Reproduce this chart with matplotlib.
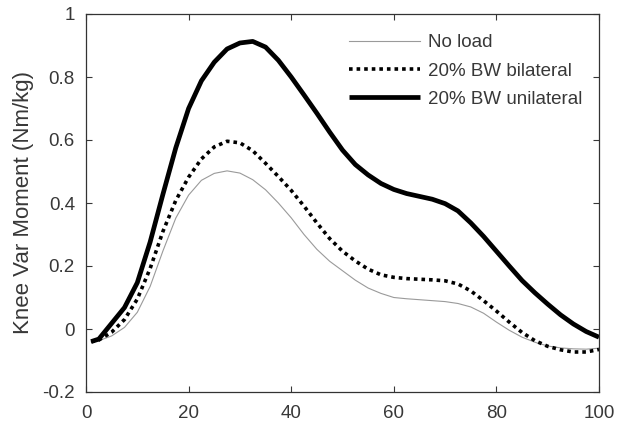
import matplotlib
matplotlib.use("Agg")
import matplotlib.pyplot as plt

plt.rcParams['font.family'] = ['Liberation Sans', 'DejaVu Sans']

x = [1, 2.5, 5, 7.5, 10, 12.5, 15, 17.5, 20, 22.5, 25, 27.5, 30, 32.5, 35, 37.5,
     40, 42.5, 45, 47.5, 50, 52.5, 55, 57.5, 60, 62.5, 65, 67.5, 70, 72.5, 75,
     77.5, 80, 82.5, 85, 87.5, 90, 92.5, 95, 97.5, 100]

no_load = [-0.04, -0.037, -0.022, 0.005, 0.053, 0.135, 0.248, 0.352, 0.425,
           0.472, 0.494, 0.502, 0.495, 0.474, 0.442, 0.40, 0.353, 0.30, 0.253,
           0.215, 0.185, 0.155, 0.13, 0.113, 0.10, 0.096, 0.093, 0.09, 0.087,
           0.081, 0.07, 0.05, 0.022, -0.004, -0.026, -0.042, -0.054, -0.06,
           -0.063, -0.064, -0.061]

bilateral = [-0.04, -0.035, -0.01, 0.03, 0.095, 0.192, 0.31, 0.408, 0.482,
             0.54, 0.578, 0.596, 0.591, 0.566, 0.526, 0.484, 0.44, 0.39,
             0.337, 0.287, 0.247, 0.216, 0.19, 0.172, 0.164, 0.16, 0.158,
             0.156, 0.153, 0.143, 0.121, 0.09, 0.057, 0.022, -0.011, -0.037,
             -0.055, -0.066, -0.073, -0.073, -0.065]

unilateral = [-0.04, -0.032, 0.018, 0.068, 0.147, 0.276, 0.428, 0.575, 0.70,
              0.788, 0.847, 0.889, 0.908, 0.913, 0.895, 0.853, 0.80, 0.743,
              0.685, 0.625, 0.568, 0.522, 0.489, 0.462, 0.443, 0.43, 0.421,
              0.412, 0.398, 0.375, 0.337, 0.294, 0.247, 0.20, 0.154, 0.115,
              0.079, 0.045, 0.016, -0.008, -0.026]

labels = ['No load', '20% BW bilateral', '20% BW unilateral']
xticks = [0, 20, 40, 60, 80, 100]
yticks = [-0.2, 0, 0.2, 0.4, 0.6, 0.8, 1]
yticklabels = ['-0.2', '0', '0.2', '0.4', '0.6', '0.8', '1']
ylabel = 'Knee Var Moment (Nm/kg)'

txt = '#383838'
fig = plt.figure(figsize=(6.19, 4.32), dpi=100)
ax = fig.add_axes([86/619, 1-392/432, (599-86)/619, (392-14)/432])

ax.plot(x, no_load, color='#9a9a9a', lw=0.8, label=labels[0],
        solid_joinstyle='round')
ax.plot(x, bilateral, color='black', lw=2.6, linestyle=(0, (1, 1.1)), label=labels[1])
ax.plot(x, unilateral, color='black', lw=3.4, label=labels[2],
        solid_capstyle='butt', solid_joinstyle='round')

ax.set_xlim(0, 100)
ax.set_ylim(-0.2, 1)
ax.set_xticks(xticks)
ax.set_xticklabels([str(t) for t in xticks])
ax.set_yticks(yticks)
ax.set_yticklabels(yticklabels)
ax.tick_params(direction='in', length=4, width=0.8, top=True, right=True,
               labelsize=13.5, colors=txt, labelcolor=txt)
ax.tick_params(axis='x', pad=9)
ax.tick_params(axis='y', pad=8)
for s in ax.spines.values():
    s.set_color('#333333')
    s.set_linewidth(0.9)
ax.set_ylabel(ylabel, fontsize=16, color=txt, labelpad=6)

leg = ax.legend(loc='upper left', bbox_to_anchor=(0.512, 0.947), frameon=False,
                fontsize=13.5, handlelength=3.8, handletextpad=0.45,
                labelspacing=0.6, borderpad=0, borderaxespad=0)
for t in leg.get_texts():
    t.set_color(txt)

fig.savefig('out.png', dpi=100)
